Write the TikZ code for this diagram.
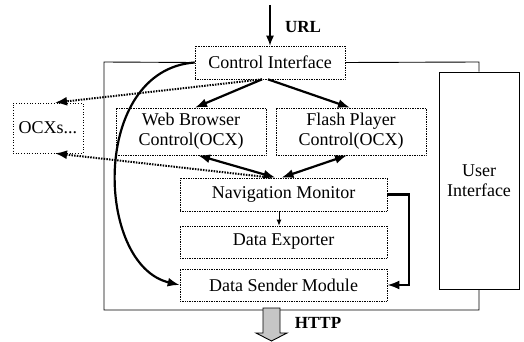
\documentclass[tikz,border=0pt]{standalone}
\usepackage{fontspec}
\setmainfont{Liberation Serif}
\usetikzlibrary{arrows.meta,calc}
\begin{document}
\begin{tikzpicture}[x=1pt,y=-1pt,
  box/.style={draw, densely dotted, line width=0.7pt, inner sep=0pt, align=center,
    font=\fontsize{18}{20}\selectfont},
  uibox/.style={draw, line width=0.9pt, inner sep=0pt, align=center,
    font=\fontsize{18}{20}\selectfont},
  lbl/.style={font=\fontsize{17}{19}\selectfont\bfseries, inner sep=0pt},
  frame/.style={line width=0.9pt},
  bigarrow/.style={line width=2.2pt, -{Latex[length=12pt,width=9pt]}},
  bothway/.style={line width=2.2pt, {Latex[length=12pt,width=9pt]}-{Latex[length=12pt,width=9pt]}},
  dotarrow/.style={line width=2pt, dash pattern=on 1.5pt off 1.2pt, -{Latex[length=12pt,width=9pt]}},
  thinarrow/.style={line width=0.9pt, -{Latex[length=6pt,width=5pt]}}
]
\useasboundingbox (0,0) rectangle (524,342);

% nodes
\node[box, minimum width=150pt, minimum height=33pt] (ctrl) at (270,62.5) {Control Interface};
\node[box, dotted, minimum width=70pt, minimum height=50pt] (ocx) at (48,128) {OCXs...};
\node[box, minimum width=150pt, minimum height=47pt] (web) at (191,131.5) {Web Browser\\Control(OCX)};
\node[box, minimum width=150pt, minimum height=47pt] (flash) at (351,131.5) {Flash Player\\Control(OCX)};
\node[box, minimum width=207pt, minimum height=33pt] (nav) at (283.5,194.5) {Navigation Monitor};
\node[box, minimum width=207pt, minimum height=32pt] (exp) at (283.5,242) {Data Exporter};
\node[box, minimum width=207pt, minimum height=32pt] (send) at (283.5,285) {Data Sender Module};
\node[uibox, minimum width=80pt, minimum height=217pt] (ui) at (479,180.5) {User\\Interface};
\node[lbl] (url) at (303,27) {URL};
\node[lbl] (http) at (318,323) {HTTP};

% outer frame
\coordinate (tl) at (104,62);
\coordinate (bl) at (104,310);
\coordinate (br) at (479,310);
\coordinate (tr) at (479,62);
\draw[frame] (ctrl.west) -- (tl) -- (bl) -- (br) -- (ui.south);
\draw[frame] (ctrl.east) -- (tr) -- (ui.north);

% URL input
\coordinate (urltop) at (270,5);
\draw[line width=1.2pt, -{Latex[length=10pt,width=8pt]}] (urltop) -- (ctrl.north);

% control interface to controls
\draw[bigarrow] ([xshift=-8pt]ctrl.south) -- ([xshift=4pt]web.north);
\draw[bigarrow] ([xshift=-2pt]ctrl.south) -- ([xshift=-1pt]flash.north);

% dotted arrows to OCXs
\draw[dotarrow] ([xshift=-8pt]ctrl.south) -- ([xshift=7pt]ocx.north);
\draw[dotarrow] ([xshift=-12pt]nav.north) -- ([xshift=7pt]ocx.south);

% controls <-> navigation monitor
\draw[bothway] ([xshift=7pt]web.south) -- ([xshift=-8pt]nav.north);
\draw[bothway] ([xshift=-4pt]flash.south) -- ([xshift=-2pt]nav.north);

% navigation monitor to exporter
\draw[thinarrow] ([xshift=-4.5pt]nav.south) -- ([xshift=-4.5pt]exp.north);

% navigation monitor to sender
\draw[bigarrow] (nav.east) -- ++(22,0) |- (send.east);

% curved control interface to sender
\draw[bigarrow] (ctrl.west) .. controls (90,70) and (95,265) .. (send.west);

% HTTP output block arrow
\filldraw[fill=gray!45, line width=0.9pt] (263,308) -- (280,308) -- (280,333) -- (287,333)
  -- (271.5,341) -- (256,333) -- (263,333) -- cycle;
\end{tikzpicture}
\end{document}
